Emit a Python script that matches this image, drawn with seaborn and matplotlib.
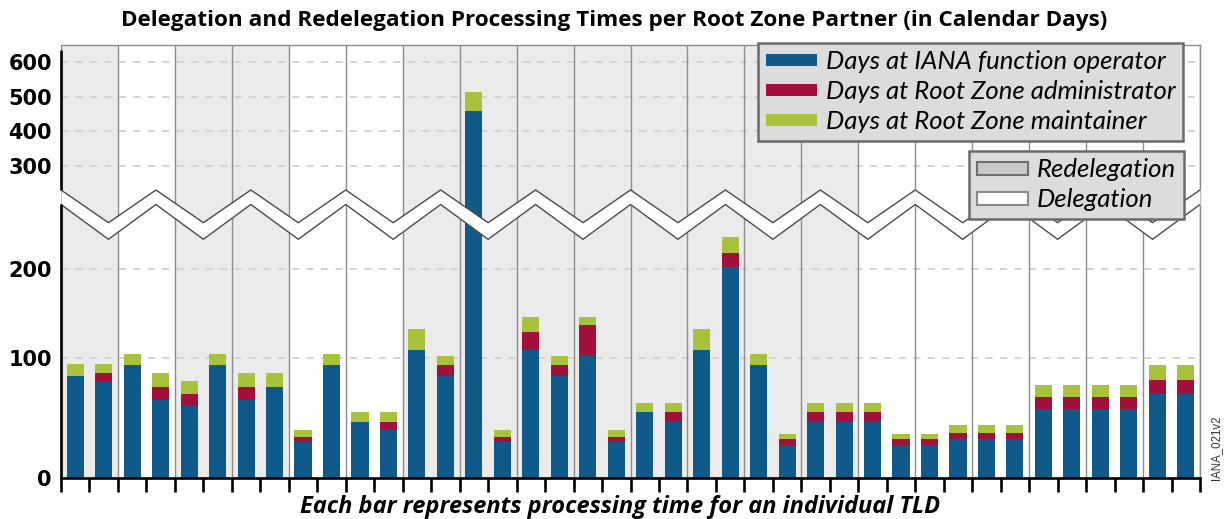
import numpy as np
import pandas as pd
import matplotlib
matplotlib.use("Agg")
import matplotlib.pyplot as plt
from matplotlib.patches import Patch
from matplotlib.font_manager import FontProperties
import seaborn as sns

# calendar days per TLD left to right
iana_days = [85, 80, 94, 65, 60, 94, 65, 76, 30, 94, 47, 40, 109, 85, 459, 30, 109, 85, 103, 30,
             55, 47, 109, 202, 94, 28, 47, 47, 47, 28, 28, 33, 33, 33, 58, 58, 58, 58, 70, 70]
rza_days = [0, 8, 0, 11, 10, 0, 11, 0, 4, 0, 0, 7, 0, 9, 0, 4, 20, 9, 34, 4,
            0, 8, 0, 16, 0, 5, 8, 8, 8, 5, 5, 5, 5, 5, 10, 10, 10, 10, 12, 12]
rzm_days = [10, 7, 11, 12, 11, 11, 12, 12, 6, 11, 8, 8, 24, 9, 54, 6, 17, 9, 9, 6,
            8, 8, 24, 18, 11, 4, 8, 8, 8, 4, 4, 6, 6, 6, 10, 10, 10, 10, 12, 12]
# one entry per pair of bars (shaded column)
pair_kind = ["Redelegation", "Delegation", "Redelegation", "Redelegation", "Delegation",
             "Delegation", "Redelegation", "Redelegation", "Redelegation", "Redelegation",
             "Redelegation", "Redelegation", "Redelegation", "Redelegation", "Delegation",
             "Delegation", "Delegation", "Delegation", "Delegation", "Delegation"]
series_names = ["Days at IANA function operator", "Days at Root Zone administrator",
                "Days at Root Zone maintainer"]
kind_names = ["Redelegation", "Delegation"]
y_ticks = [0, 100, 200, 300, 400, 500, 600]

blue, red, green = "#0f5a8b", "#a3103c", "#a9c23c"
shade = "#ebebeb"

df = pd.DataFrame({"tld": np.arange(len(iana_days)), "iana": iana_days,
                   "rza": rza_days, "rzm": rzm_days})
df["iana_rza"] = df["iana"] + df["rza"]
df["total"] = df["iana_rza"] + df["rzm"]

# broken axis: the chart squeezes the upper range
data_knots = [-100, 0, 100, 200, 250, 300, 600, 1000]
px_knots = [-120, 0, 120, 209, 253.5, 312.6, 416, 553.9]
def fwd(v):
    return np.interp(v, data_knots, px_knots)
def inv(p):
    return np.interp(p, px_knots, data_knots)

W, H = 1225, 519
fig = plt.figure(figsize=(W / 100, H / 100), dpi=100)
ax = fig.add_axes([61 / W, 40.7 / H, 1139 / W, 433.3 / H])
ax.set_yscale("function", functions=(fwd, inv))

for i, kind in enumerate(pair_kind):
    if kind == "Redelegation":
        ax.axvspan(-0.5 + 2 * i, 1.5 + 2 * i, color=shade, lw=0, zorder=0)
for i in range(len(pair_kind) + 1):
    ax.axvline(-0.5 + 2 * i, color="#8c8c8c", lw=1, zorder=1.5)

for col, c in [("total", green), ("iana_rza", red), ("iana", blue)]:
    sns.barplot(data=df, x="tld", y=col, color=c, width=0.6, saturation=1,
                linewidth=0, ax=ax, zorder=2)

ax.set_xlim(-0.5, 39.5)
ax.set_ylim(0, 650)
ax.set_xlabel("")
ax.set_ylabel("")
ax.set_xticks(np.arange(-0.5, 40, 1))
ax.set_xticklabels([])
ax.set_yticks(y_ticks)
ax.set_yticklabels([str(t) for t in y_ticks], fontfamily="DejaVu Sans",
                   fontweight="bold", fontsize=15)
ax.tick_params(axis="x", length=10, width=1.9, color="black", direction="out")
ax.tick_params(axis="y", length=0, pad=6.5)
ax.set_axisbelow(True)
ax.yaxis.grid(True, color="#d0d0d0", ls=(0, (4, 4)), lw=1.3)
ax.xaxis.grid(False)

ax.spines["left"].set_visible(False)
ax.spines["bottom"].set_color("black")
ax.spines["bottom"].set_linewidth(1.9)
for s in ["top", "right"]:
    ax.spines[s].set_color("#8c8c8c")
    ax.spines[s].set_linewidth(1)

# zigzag break band
xs = -0.5 + np.arange(25) * (40 / 24)
upper = np.where(np.arange(25) % 2 == 0, 0.6654, 0.5899)
lower = np.where(np.arange(25) % 2 == 0, 0.6319, 0.5516)
tr = ax.get_xaxis_transform()
ax.fill_between(xs, lower, upper, transform=tr, color="white", lw=0, zorder=4)
ax.plot(xs, upper, transform=tr, color="#4a4a4a", lw=1, zorder=4.5)
ax.plot(xs, lower, transform=tr, color="#4a4a4a", lw=1, zorder=4.5)
ax.plot([0, 0], [0, 0.6319], transform=ax.transAxes, color="black", lw=1.9,
        clip_on=False, solid_capstyle="butt", zorder=5)
ax.plot([0, 0], [0.6654, 0.988], transform=ax.transAxes, color="black", lw=1.9,
        clip_on=False, solid_capstyle="butt", zorder=5)

leg_font = FontProperties(family="Lato", style="italic", size=18.5)
h1 = [Patch(facecolor=c, lw=0) for c in (blue, red, green)]
leg1 = fig.legend(h1, series_names, loc="upper left", bbox_to_anchor=(758 / W, 1 - 42.7 / H),
                  prop=leg_font, fancybox=False, facecolor="#dcdcdc", edgecolor="#6a6a6a",
                  framealpha=1, handlelength=2.0, handleheight=0.36, handletextpad=0.35,
                  labelspacing=0.27, borderpad=0.3, borderaxespad=0)
leg1.get_frame().set_linewidth(1.8)
h2 = [Patch(facecolor="#c8c8c8", edgecolor="#6e6e6e", lw=1.5),
      Patch(facecolor="white", edgecolor="#8a8a8a", lw=1.5)]
leg2 = fig.legend(h2, kind_names, loc="upper left", bbox_to_anchor=(969 / W, 1 - 150.7 / H),
                  prop=leg_font, fancybox=False, facecolor="#dcdcdc", edgecolor="#6a6a6a",
                  framealpha=1, handlelength=2.0, handleheight=0.42, handletextpad=0.35,
                  labelspacing=0.27, borderpad=0.3, borderaxespad=0)
leg2.get_frame().set_linewidth(1.8)

fig.text(0.501, 1 - 26 / H, "Delegation and Redelegation Processing Times per Root Zone Partner (in Calendar Days)",
         ha="center", va="baseline", family="Open Sans", weight="bold", size=16.2)
fig.text(0.506, 1 - 513.3 / H, "Each bar represents processing time for an individual TLD",
         ha="center", va="baseline", family="Open Sans", weight="bold", style="italic", size=17)
fig.text(1216 / W, 1 - 448 / H, "IANA_021v2", rotation=90, ha="center", va="center",
         family="Liberation Sans", size=8.3, color="#333333")

fig.savefig("out.png", dpi=100)
